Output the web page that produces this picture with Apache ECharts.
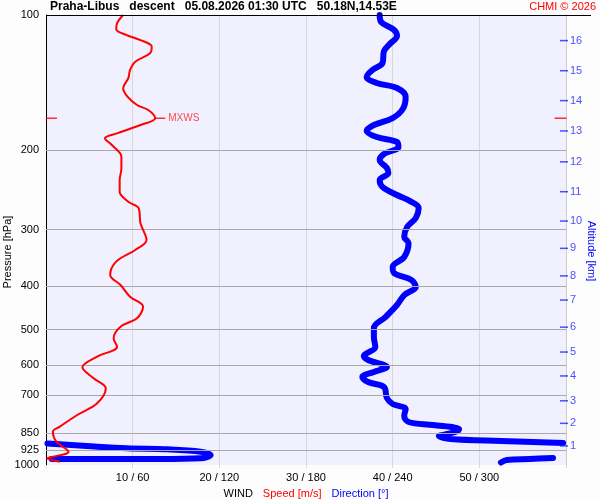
<!DOCTYPE html>
<html>
<head>
<meta charset="utf-8">
<script src="https://cdn.jsdelivr.net/npm/echarts@6/dist/echarts.min.js"></script>
<style>
  html, body { margin: 0; padding: 0; background: #fdfdfd; }
  #chart { width: 600px; height: 500px; }
</style>
</head>
<body>
<div id="chart"></div>
<script>
// pressure levels (hPa) for grid lines / labels
const pressureLabels = [100, 200, 300, 400, 500, 600, 700, 850, 925, 1000];
const gridLevels = [200, 300, 400, 500, 600, 700, 850, 925];

// bottom axis: speed m/s and matching direction deg
const speedTicks = [10, 20, 30, 40, 50];
const dirTicks = [60, 120, 180, 240, 300];

// right axis: altitude km and pressure where it sits
const altKm = [1, 2, 3, 4, 5, 6, 7, 8, 9, 10, 11, 12, 13, 14, 15, 16];
const altPres = [907, 808, 720, 634, 561, 494, 430, 380, 330, 287, 247, 212, 181, 155, 133, 114];

// wind speed profile
const speedPres = [100, 104.3, 107.6, 110.8, 113.7, 117.6, 121.6, 127, 132.5, 138.2, 145.5, 151.9, 158.5, 162.6, 169.6,
  175.6, 183.2, 187.9, 194.5, 206.5, 219.1, 232.6, 247, 259.9, 268.9, 290.4, 316.2, 332.8, 353.3, 378.2, 398.1,
  422.7, 444.9, 472.1, 492.8, 523, 546, 574.5, 606.5, 641.6, 675.3, 729.3, 774.3, 822, 843.3, 887.4, 934.2,
  961.4, 966.4, 983.3];
const speed = [8.9, 8.2, 8.1, 9.3, 10.9, 12.2, 12.0, 10.3, 9.7, 9.5, 8.9, 9.4, 10.5, 11.8, 12.6,
  10.9, 8.2, 6.8, 7.6, 8.7, 8.7, 8.5, 8.5, 9.5, 10.7, 10.9, 11.6, 10.3, 8.1, 7.4, 8.6,
  9.7, 11.2, 10.5, 8.6, 7.8, 8.2, 5.9, 4.2, 5.5, 6.9, 5.9, 3.6, 1.6, 0.8, 1.2, 2.6,
  0.5, 0.1, 1.6];

// wind direction profile
const dirPres = [100, 103.6, 108, 111.4, 116, 120.2, 127.8, 132.5, 137.3, 141.6, 145.3, 152.1, 161.8, 169.4,
  175.6, 181, 186.7, 191.5, 196.5, 203.7, 210, 218.8, 224.4, 232.6, 241.1, 251.2, 259.1, 268.5, 282.5,
  295.8, 311.4, 321.2, 345, 363.1, 374.5, 388.1, 402.2, 419.1, 441.1, 469, 496.1, 519.5, 546.7, 572.5,
  584.3, 605.6, 621.3, 637.4, 654, 670.9, 709.8, 731.9, 751, 778.3, 802.5, 815, 831.8, 840.4, 853.4,
  862.2, 875.5, 884.5, 893.6, 896, 907.4, 918.2, 922.9, 934.2, 950.2, 966.4, 969.8, 969.8, 969.8,
  964.7, 969.8, 974.7, 987.3];
const direction = [231, 232, 241, 243, 238, 234, 233, 226, 222, 229, 243, 249, 247, 240,
  227, 222, 229, 243, 244, 234, 231, 236, 237, 231, 233, 243, 252, 258, 256,
  250, 248, 251, 248, 240, 241, 253, 256, 248, 243, 235, 227, 227, 228, 220,
  223, 236, 227, 219, 223, 234, 236, 240, 249, 248, 251, 268, 286, 285, 278,
  272, 280, 315, 358, 1, 28, 56, 84, 107, 114, 107, 79, 37, 4,
  351, 335, 319, 315];

const xMax = 60;

// split direction into segments where it wraps over north
const dirSegments = [];
let seg = [];
direction.forEach((d, i) => {
  if (i > 0 && Math.abs(d - direction[i - 1]) > 180) {
    dirSegments.push(seg);
    seg = [];
  }
  seg.push([d / 6, dirPres[i]]);
});
dirSegments.push(seg);

const maxIdx = speed.indexOf(Math.max(...speed));

const font = 'Arial, "Liberation Sans", sans-serif';

const series = dirSegments.map(s => ({
  type: 'line',
  data: s,
  showSymbol: false,
  silent: true,
  smooth: 0.35,
  z: 3,
  lineStyle: { color: '#0000ff', width: 6, cap: 'round', join: 'round' }
}));

series.push({
  type: 'line',
  data: speed.map((v, i) => [v, speedPres[i]]),
  showSymbol: false,
  silent: true,
  smooth: 0.35,
  z: 5,
  lineStyle: { color: '#ff0000', width: 2 },
  markLine: {
    silent: true,
    symbol: ['none', 'none'],
    animation: false,
    label: {
      position: 'start',
      distance: 7,
      color: '#000',
      fontSize: 11,
      fontFamily: font,
      formatter: p => p.value
    },
    data: pressureLabels.map(p => ({
      yAxis: p,
      lineStyle: {
        color: gridLevels.indexOf(p) < 0 ? 'rgba(0,0,0,0)' : '#a8a8a8',
        width: 1,
        type: 'solid'
      }
    }))
  }
});

// max wind marker
series.push({
  type: 'scatter',
  silent: true,
  z: 6,
  data: [{
    value: [speed[maxIdx], speedPres[maxIdx]],
    symbolOffset: [5, 0],
    label: { show: true, position: 'right', distance: 3, formatter: 'MXWS', color: '#ff2020', fontSize: 10, fontFamily: font }
  }, {
    value: [0, speedPres[maxIdx]],
    symbolSize: [11, 1.5],
    symbolOffset: [5.5, 0]
  }, {
    value: [xMax, speedPres[maxIdx]],
    symbolSize: [12, 1.5],
    symbolOffset: [-5.5, 0]
  }],
  symbol: 'rect',
  symbolSize: [10, 1.5],
  itemStyle: { color: '#ff0000' }
});

// altitude ticks on right side
series.push({
  type: 'scatter',
  silent: true,
  z: 6,
  data: altPres.map(p => [xMax, p]),
  symbol: 'rect',
  symbolSize: [8, 1.5],
  symbolOffset: [-2, 0],
  itemStyle: { color: '#2222ff' },
  label: {
    show: true,
    position: 'right',
    distance: 2,
    color: '#2222ff',
    fontSize: 11,
    fontFamily: font,
    formatter: p => altKm[p.dataIndex]
  }
});

const chart = echarts.init(document.getElementById('chart'));
chart.setOption({
  animation: false,
  backgroundColor: '#fdfdfd',
  title: [{
    text: 'Praha-Libus   descent   05.08.2026 01:30 UTC   50.18N,14.53E',
    left: 50,
    top: 1,
    padding: 0,
    textStyle: { fontSize: 12, fontWeight: 'bold', color: '#000', fontFamily: font }
  }, {
    text: 'CHMI © 2026',
    right: 4,
    top: 1,
    padding: 0,
    textStyle: { fontSize: 11, fontWeight: 'normal', color: '#ff0000', fontFamily: font }
  }],
  grid: {
    left: 46,
    right: 34,
    top: 15,
    bottom: 35,
    containLabel: false,
    outerBoundsMode: 'none',
    show: true,
    backgroundColor: '#f0f0ff',
    borderWidth: 0
  },
  graphic: [{
    type: 'line',
    shape: { x1: 46, y1: 15.5, x2: 591, y2: 15.5 },
    style: { stroke: '#000', lineWidth: 1 },
    z: 10
  }],
  xAxis: {
    type: 'value',
    min: 0,
    max: xMax,
    interval: 10,
    name: '{w|WIND}   {s|Speed [m/s]}   {d|Direction [°]}',
    nameLocation: 'middle',
    nameGap: 21,
    nameTextStyle: {
      fontFamily: font,
      rich: {
        w: { color: '#000', fontSize: 11, fontFamily: font },
        s: { color: '#ff0000', fontSize: 11, fontFamily: font },
        d: { color: '#0000ff', fontSize: 11, fontFamily: font }
      }
    },
    axisLine: { show: false },
    axisTick: { show: true, length: 3, lineStyle: { color: '#d8d8d8' } },
    splitLine: { show: true, lineStyle: { color: '#d8d8d8', width: 1 } },
    axisLabel: {
      margin: 7,
      color: '#000',
      fontSize: 11,
      fontFamily: font,
      formatter: v => {
        const i = speedTicks.indexOf(v);
        return i < 0 ? '' : v + ' / ' + dirTicks[i];
      }
    }
  },
  yAxis: [{
    type: 'log',
    logBase: 10,
    min: 100,
    max: 1000,
    inverse: true,
    position: 'left',
    name: 'Pressure [hPa]',
    nameLocation: 'middle',
    nameGap: 33,
    nameRotate: 90,
    nameTextStyle: { color: '#000', fontSize: 11, fontFamily: font, padding: [0, 24, 0, 0] },
    axisLine: { show: true, lineStyle: { color: '#000', width: 1 } },
    axisTick: { show: false },
    axisLabel: { show: false },
    splitLine: { show: false }
  }, {
    type: 'log',
    logBase: 10,
    min: 100,
    max: 1000,
    inverse: true,
    position: 'right',
    name: 'Altitude [km]',
    nameLocation: 'middle',
    nameGap: 20,
    nameRotate: -90,
    nameTextStyle: { color: '#0000ff', fontSize: 11, fontFamily: font, padding: [0, 0, 0, 22] },
    axisLine: { show: true, lineStyle: { color: '#cccccc', width: 1 } },
    axisTick: { show: false },
    axisLabel: { show: false },
    splitLine: { show: false }
  }],
  series: series
});
</script>
</body>
</html>
